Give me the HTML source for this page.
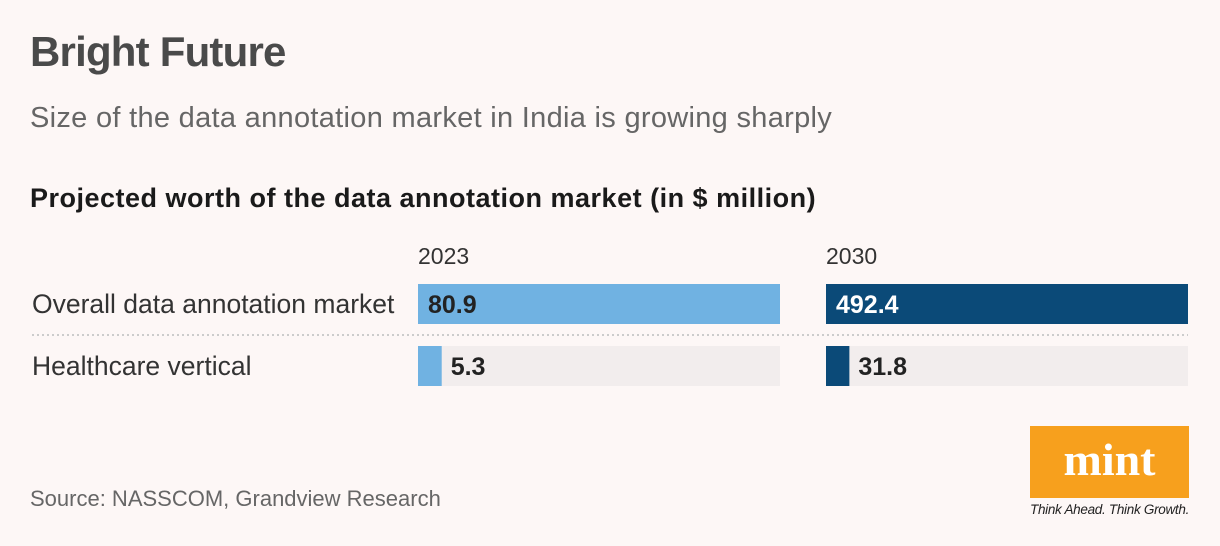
<!DOCTYPE html>
<html><head><meta charset="utf-8"><style>
body{margin:0;width:1220px;height:546px;background:#fdf7f6;font-family:"Liberation Sans",sans-serif;position:relative;overflow:hidden;color:#222}
.a{position:absolute;white-space:nowrap}
</style></head><body>
<div class="a" style="left:30px;top:28px;font-size:42px;font-weight:bold;color:#4a4a4a;letter-spacing:-0.8px">Bright Future</div>
<div class="a" style="left:30px;top:102px;font-size:29px;color:#666;letter-spacing:0.3px">Size of the data annotation market in India is growing sharply</div>
<div class="a" style="left:30px;top:183px;font-size:27px;font-weight:bold;color:#1a1a1a;letter-spacing:0.5px">Projected worth of the data annotation market (in $ million)</div>
<svg id="c" class="a" style="left:0;top:0" width="1220" height="546"></svg>
<div class="a" style="left:30px;top:486px;font-size:22px;color:#666">Source: NASSCOM, Grandview Research</div>
<div class="a" style="left:1030px;top:426px;width:159px;height:72px;background:#f7a01d;color:#fff;font-family:'Liberation Serif',serif;font-weight:bold;font-size:46px;text-align:center;line-height:68px">mint</div>
<div class="a" style="left:1030px;top:502px;font-size:13.5px;font-style:italic;color:#222;letter-spacing:-0.3px">Think Ahead. Think Growth.</div>
<script>
const categories=["Overall data annotation market","Healthcare vertical"];
const years=["2023","2030"];
const values2023=[80.9,5.3];
const values2030=[492.4,31.8];
const series=[values2023,values2030];
const colors=["#70b2e2","#0b4a78"];
const svg=document.getElementById('c');const NS="http://www.w3.org/2000/svg";
function el(t,a){const e=document.createElementNS(NS,t);for(const k in a)e.setAttribute(k,a[k]);svg.appendChild(e);return e;}
const colX=[418,826],W=362,rowY=[284,346],H=40;
function xs(v,max){return v/max*W;}
const ln=el('line',{x1:32,x2:1188,y1:335,y2:335,stroke:'#ccc','stroke-width':2,'stroke-dasharray':'2 3'});

categories.forEach((c,i)=>{const t=el('text',{x:32,y:rowY[i]+29,'font-size':26.5,fill:'#333'});t.textContent=c;
});
series.forEach((vals,s)=>{const max=Math.max(...vals);
const yl=el('text',{x:colX[s],y:264,'font-size':23,fill:'#333'});yl.textContent=years[s];

vals.forEach((v,i)=>{const bg=el('rect',{x:colX[s],y:rowY[i],width:W,height:H,fill:'#f2eded'});

const w=xs(v,max);const b=el('rect',{x:colX[s],y:rowY[i],width:w,height:H,fill:colors[s]});

const inside=w>100;const t=el('text',{x:inside?colX[s]+10:colX[s]+w+9,y:rowY[i]+29,'font-size':25,'font-weight':'bold',fill:inside&&s==1?'#fff':'#222'});
t.textContent=v.toFixed(1);});});
</script>
</body></html>
